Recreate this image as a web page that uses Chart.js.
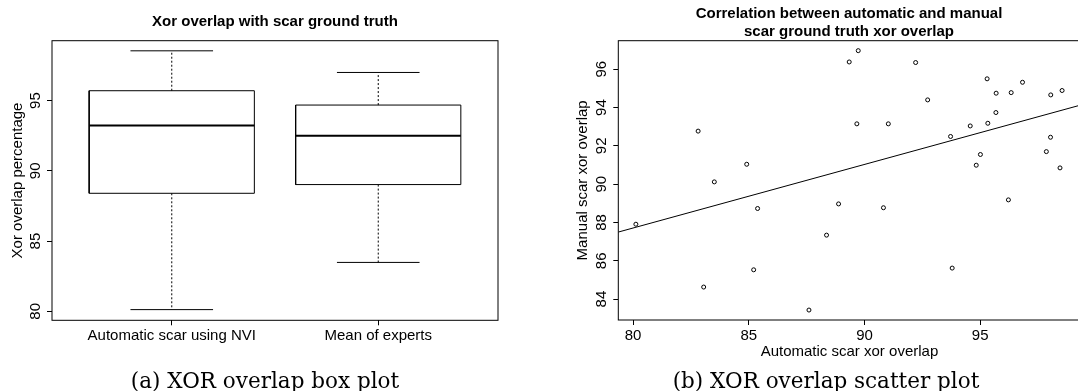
<!DOCTYPE html>
<html>
<head>
<meta charset="utf-8">
<script src="https://cdn.jsdelivr.net/npm/chart.js@4/dist/chart.umd.min.js"></script>
<style>
  html, body { margin: 0; padding: 0; background: #fff; overflow: hidden; }
  body { width: 1078px; height: 391px; position: relative; }
  .panel { position: absolute; top: 0; height: 391px; }
  .title { position: absolute; font: bold 15px "Liberation Sans", Arial, sans-serif; line-height: 18px;
           color: #000; white-space: nowrap; transform: translateX(-50%); text-align: center; }
  .caption { position: absolute; font: 21.5px "DejaVu Serif", serif; color: #000; white-space: nowrap;
             transform: translateX(-50%); line-height: 22px; }
</style>
</head>
<body>
<div class="panel" style="left:0;width:540px;"><canvas id="boxChart" width="540" height="391"></canvas></div>
<div class="panel" style="left:540px;width:560px;"><canvas id="scatterChart" width="560" height="391"></canvas></div>
<div class="title" style="left:275px;top:12px;">Xor overlap with scar ground truth</div>
<div class="title" style="left:849px;top:4px;">Correlation between automatic and manual<br>scar ground truth xor overlap</div>
<div class="caption" style="left:265px;top:370px;">(a) XOR overlap box plot</div>
<div class="caption" style="left:826px;top:370px;">(b) XOR overlap scatter plot</div>
<script>
// box plot summary values
const boxCategories = ['Automatic scar using NVI', 'Mean of experts'];
const boxMin = [80.12, 83.48];
const boxQ1 = [88.40, 89.02];
const boxMedian = [93.23, 92.50];
const boxQ3 = [95.70, 94.68];
const boxMax = [98.54, 97.00];
const boxTicks = [80, 85, 90, 95];

// scatter values (automatic vs manual)
const autoOverlap = [80.12, 82.81, 83.05, 83.51, 84.91, 85.21, 85.38, 87.60, 88.36, 88.88,
  89.34, 89.73, 89.67, 90.82, 91.03, 92.21, 92.73, 93.72, 93.79, 94.57,
  94.83, 95.01, 95.30, 95.33, 95.68, 95.69, 96.22, 96.34, 96.83, 97.86,
  98.04, 98.05, 98.45, 98.54];
const manualOverlap = [87.91, 92.77, 84.63, 90.12, 91.04, 85.53, 88.73, 83.43, 87.34, 88.97,
  96.38, 96.97, 93.15, 88.77, 93.15, 96.35, 94.40, 92.49, 85.62, 93.04,
  90.99, 91.55, 95.50, 93.18, 93.74, 94.75, 89.18, 94.78, 95.32, 91.70,
  92.45, 94.66, 90.85, 94.89];
const fitLineX = [79.36, 99.34];
const fitLineY = [87.50, 94.13];
const scatterXTicks = [80, 85, 90, 95];
const scatterYTicks = [84, 86, 88, 90, 92, 94, 96];

const FONT = '"Liberation Sans", Arial, sans-serif';
Chart.defaults.font.family = FONT;
Chart.defaults.font.size = 15;
Chart.defaults.color = '#000';
Chart.defaults.animation = false;

// draws the full R-style frame around the plot region
const frame = {
  id: 'frame',
  afterDatasetsDraw(chart) {
    const a = chart.chartArea;
    const ctx = chart.ctx;
    ctx.save();
    ctx.strokeStyle = '#000';
    ctx.lineWidth = 1;
    ctx.strokeRect(a.left, a.top, a.right - a.left, a.bottom - a.top);
    ctx.restore();
  }
};

function axisGrid() {
  return { display: true, drawOnChartArea: false, drawTicks: true, tickLength: 5, color: '#000', lineWidth: 1 };
}

function fixedTicks(values) {
  return function (scale) {
    scale.ticks = values.map(v => ({ value: v }));
  };
}

// ---- box plot built from line segments ----
const boxDatasets = [];
const half = 0.4, capHalf = 0.2;
boxCategories.forEach((name, i) => {
  const c = i + 1;
  const seg = (pts, extra) => Object.assign({
    data: pts, showLine: true, pointRadius: 0, borderColor: '#000', borderWidth: 1,
    backgroundColor: 'transparent', fill: false
  }, extra || {});
  boxDatasets.push(seg([
    { x: c - half, y: boxQ1[i] }, { x: c + half, y: boxQ1[i] },
    { x: c + half, y: boxQ3[i] }, { x: c - half, y: boxQ3[i] }, { x: c - half, y: boxQ1[i] }
  ]));
  boxDatasets.push(seg([{ x: c - half, y: boxMedian[i] }, { x: c + half, y: boxMedian[i] }], { borderWidth: 2 }));
  boxDatasets.push(seg([{ x: c, y: boxQ3[i] }, { x: c, y: boxMax[i] }], { borderDash: [2, 2] }));
  boxDatasets.push(seg([{ x: c, y: boxQ1[i] }, { x: c, y: boxMin[i] }], { borderDash: [2, 2] }));
  boxDatasets.push(seg([{ x: c - capHalf, y: boxMax[i] }, { x: c + capHalf, y: boxMax[i] }]));
  boxDatasets.push(seg([{ x: c - capHalf, y: boxMin[i] }, { x: c + capHalf, y: boxMin[i] }]));
});

new Chart(document.getElementById('boxChart'), {
  type: 'scatter',
  data: { datasets: boxDatasets },
  plugins: [frame],
  options: {
    responsive: false,
    layout: { padding: { top: 40.7, right: 42, bottom: 0, left: 0 } },
    plugins: { legend: { display: false }, tooltip: { enabled: false } },
    scales: {
      x: {
        type: 'linear', min: 0.42, max: 2.58,
        grid: axisGrid(), border: { display: false },
        afterBuildTicks: fixedTicks([1, 2]),
        afterFit: (s) => { s.height = 70.7; },
        ticks: { padding: 2, maxRotation: 0, autoSkip: false, callback: (v) => boxCategories[v - 1] }
      },
      y: {
        type: 'linear', min: 79.36, max: 99.26,
        grid: axisGrid(), border: { display: false },
        afterBuildTicks: fixedTicks(boxTicks),
        afterFit: (s) => { s.width = 52; },
        ticks: { minRotation: 90, maxRotation: 90, crossAlign: 'center', padding: 3 },
        title: { display: true, text: 'Xor overlap percentage', font: { size: 15 }, padding: { top: 9.3, bottom: 0 } }
      }
    }
  }
});

// ---- scatter with fitted line ----
new Chart(document.getElementById('scatterChart'), {
  type: 'scatter',
  data: {
    datasets: [
      {
        data: autoOverlap.map((x, i) => ({ x: x, y: manualOverlap[i] })),
        pointRadius: 2, pointBorderWidth: 1, borderColor: '#000', backgroundColor: 'transparent'
      },
      {
        data: fitLineX.map((x, i) => ({ x: x, y: fitLineY[i] })),
        showLine: true, pointRadius: 0, borderColor: '#000', borderWidth: 1
      }
    ]
  },
  plugins: [frame],
  options: {
    responsive: false,
    layout: { padding: { top: 40.7, right: 19.4, bottom: 0, left: 0 } },
    plugins: { legend: { display: false }, tooltip: { enabled: false } },
    scales: {
      x: {
        type: 'linear', min: 79.36, max: 99.34,
        grid: axisGrid(), border: { display: false },
        afterBuildTicks: fixedTicks(scatterXTicks),
        afterFit: (s) => { s.height = 71; },
        ticks: { padding: 2, maxRotation: 0 },
        title: { display: true, text: 'Automatic scar xor overlap', font: { size: 15 }, padding: { top: 0, bottom: 30.3 } }
      },
      y: {
        type: 'linear', min: 82.91, max: 97.49,
        grid: axisGrid(), border: { display: false },
        afterBuildTicks: fixedTicks(scatterYTicks),
        afterFit: (s) => { s.width = 78.3; },
        ticks: { minRotation: 90, maxRotation: 90, crossAlign: 'center', padding: 3 },
        title: { display: true, text: 'Manual scar xor overlap', font: { size: 15 }, padding: { top: 34.3, bottom: 0 } }
      }
    }
  }
});
</script>
</body>
</html>
